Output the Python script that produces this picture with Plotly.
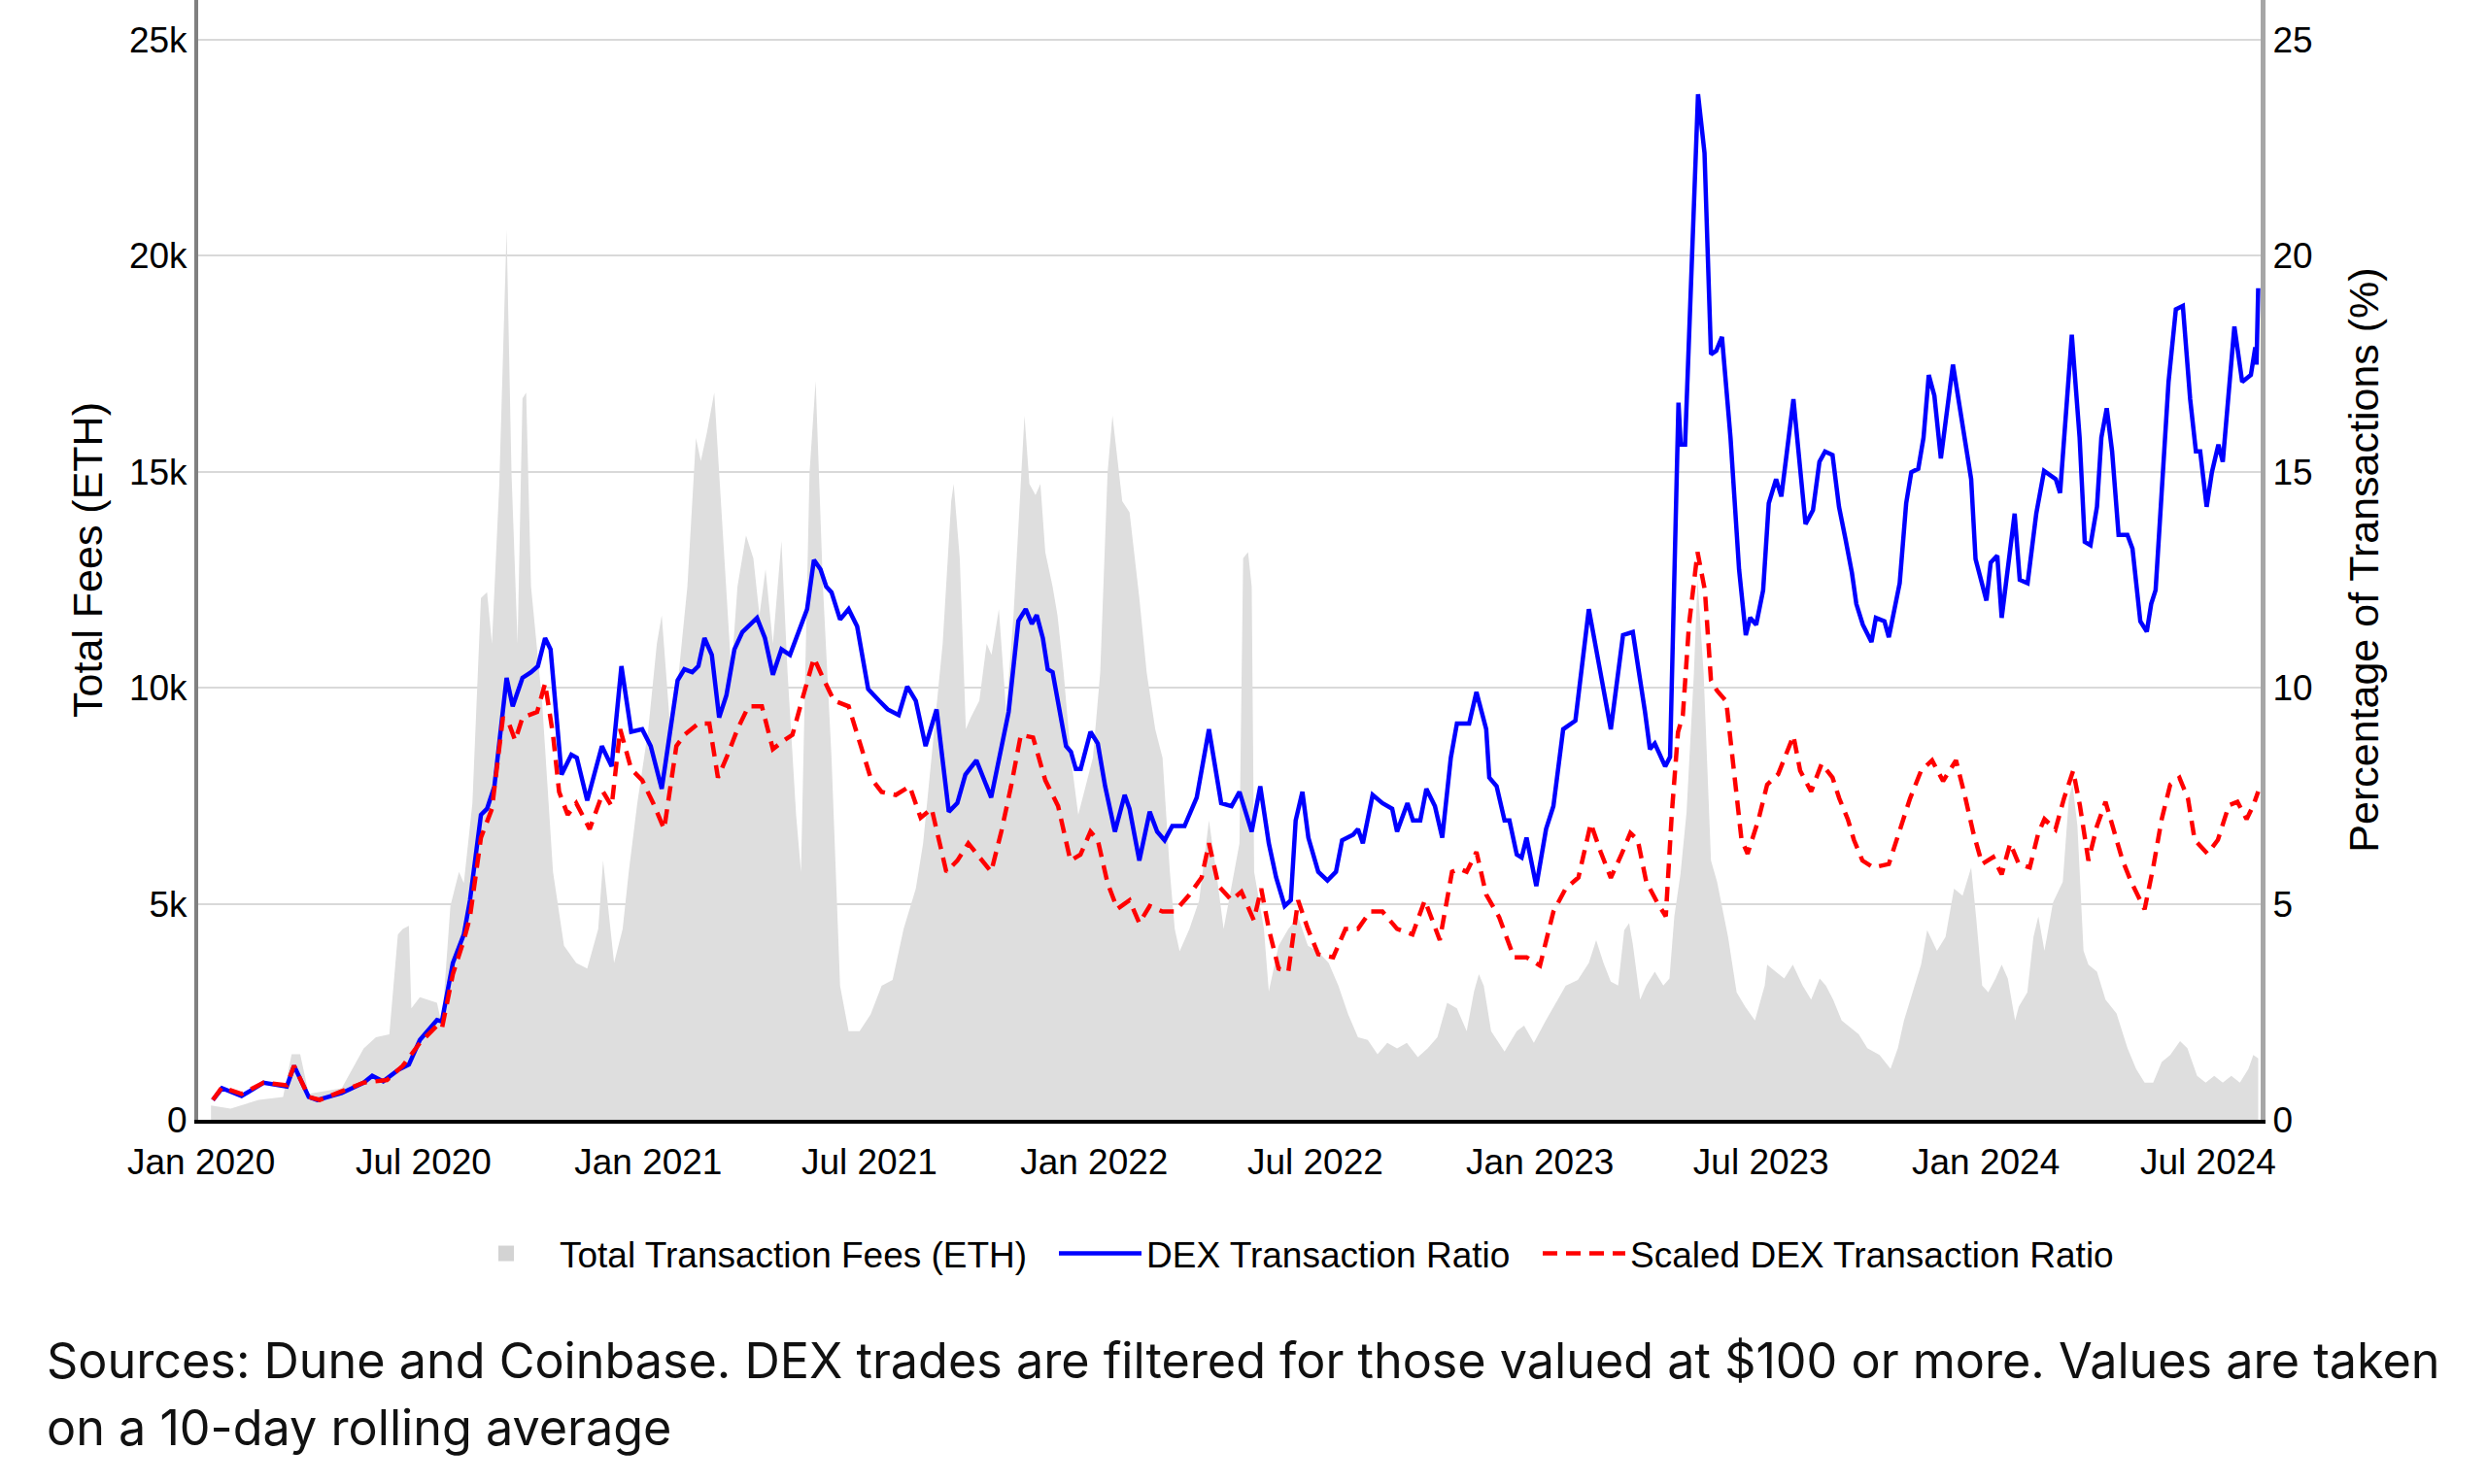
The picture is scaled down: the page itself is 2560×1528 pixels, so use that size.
import pandas as pd
import plotly.graph_objects as go

# ---------------- data ----------------
# x values are days since 2020-01-01
START = "2020-01-01"

fee_day = [8, 24, 47, 67, 74, 81, 88, 115, 133, 143, 154, 161, 165, 170, 172, 179, 193, 197,
           204, 211, 215, 222, 229, 234, 238, 244, 250, 254, 259, 263, 266, 270, 279, 288, 297,
           307, 316, 325, 329, 334, 338, 345, 350, 357, 366, 373, 377, 384, 391, 398, 405, 409,
           414, 420, 425, 430, 434, 439, 446, 452, 457, 462, 468, 475, 480, 487, 491, 498, 503,
           509, 516, 523, 530, 539, 548, 557, 566, 575, 585, 591, 598, 607, 614, 616, 621, 626,
           630, 637, 643, 647, 653, 659, 665, 671, 674, 678, 683, 687, 691, 697, 701, 706, 712,
           718, 724, 730, 736, 742, 746, 750, 754, 760, 768, 774, 781, 787, 793, 797, 801, 809,
           817, 825, 831, 837, 843, 850, 853, 857, 860, 862, 870, 874, 882, 890, 898, 906, 914,
           923, 931, 939, 947, 955, 963, 971, 979, 987, 996, 1004, 1012, 1020, 1028, 1036, 1042,
           1046, 1050, 1056, 1067, 1077, 1083, 1091, 1101, 1109, 1117, 1127, 1136, 1142, 1148,
           1154, 1160, 1165, 1169, 1172, 1178, 1183, 1190, 1197, 1202, 1206, 1211, 1216, 1222,
           1225, 1230, 1236, 1241, 1250, 1257, 1264, 1272, 1280, 1282, 1289, 1296, 1303, 1311,
           1318, 1325, 1330, 1336, 1343, 1350, 1357, 1364, 1374, 1383, 1389, 1394, 1401, 1408,
           1413, 1421, 1428, 1435, 1442, 1449, 1453, 1458, 1463, 1469, 1474, 1479, 1485, 1488,
           1495, 1500, 1504, 1509, 1516, 1524, 1529, 1532, 1536, 1541, 1545, 1552, 1559, 1568,
           1577, 1584, 1591, 1598, 1605, 1612, 1620, 1626, 1634, 1641, 1648, 1655, 1662, 1669,
           1676, 1680, 1684]
fee_eth = [330, 260, 460, 530, 1520, 1520, 600, 730, 1650, 1910, 1980, 4290, 4420, 4490, 2580,
           2840, 2710, 2180, 4950, 5740, 5480, 7330, 12080, 12210, 11020, 14700, 20600, 14980,
           11020, 16700, 16830, 12340, 9700, 5740, 4030, 3630, 3500, 4420, 6000, 4690, 3630,
           4420, 5740, 7330, 9040, 11020, 11680, 9040, 10360, 12340, 15780, 15250, 15910, 16830,
           14590, 12340, 10360, 12340, 13530, 13000, 11680, 12740, 11020, 13400, 10360, 7060,
           5740, 14980, 17100, 12340, 8380, 3100, 2050, 2050, 2440, 3100, 3240, 4420, 5350, 6400,
           8380, 11020, 14320, 14720, 13000, 9040,
           9310, 9700, 11020, 10760, 11820, 9440, 11680, 14720, 16300, 14720, 14460, 14720,
           13140, 12340, 11680, 10360, 8380, 7060, 7720, 8380, 10360, 14980, 16300, 15250, 14320,
           14060, 12080, 10360, 9040, 8380, 5740, 4420, 3900, 4420, 5080, 6930, 5740, 4420, 5350,
           6400, 13000, 13140, 12340, 5740, 4420, 2970, 4030, 4420, 4690, 4030, 3900, 3630, 3100,
           2440, 1910, 1850, 1520, 1780, 1650, 1780, 1450, 1650, 1910, 2710, 2580, 2050, 2970,
           3370, 3100, 2050, 1580, 2050, 2180, 1780, 2310, 2710, 3100, 3240, 3630, 4160, 3630,
           3200, 3110, 4390, 4550, 4070, 2780, 3110, 3430, 3110, 3270, 4710, 5680, 7120, 10330,
           12500, 10330, 6000, 5510, 4230, 2950, 2620, 2300, 3110, 3590, 3430, 3270, 3590, 3110,
           2780, 3270, 3110, 2780, 2300, 2140, 1980, 1660, 1500, 1180, 1660, 2300, 2950, 3590,
           4390, 3910, 4230, 5350, 5190, 5840, 4710, 3110, 2950, 3270, 3590, 3270, 2300, 2620,
           2950, 4230, 4710, 3910, 5030, 5510, 7440, 7760, 6800, 3910, 3590, 3430, 2780, 2460,
           1660, 1180, 860, 860, 1340, 1500, 1820, 1660, 1020, 860, 1020, 860, 1020, 860,
           1180, 1500, 1420]

dex_day = [9.5, 17, 33, 51, 70, 76, 88, 95, 115, 133, 140, 149, 161, 170, 179, 193, 197, 206,
           215, 220, 229, 234, 240, 250, 255, 263, 270, 275.6, 281.5, 286, 295, 303, 307.5, 316,
           328, 336, 344, 352, 361, 368, 377, 390, 395.5, 402, 407, 412, 418, 424, 430, 436.5,
           443, 448, 455, 461.5, 468, 475, 482, 489, 496, 501.6, 507, 511.7, 516, 523, 530, 537,
           546, 555, 562, 571, 578, 585, 593, 602, 612, 619, 625.6, 634.6, 646.7, 661, 669, 675,
           680, 684, 689, 693, 697, 708, 712, 716, 720, 728, 734, 740, 748, 756, 760, 768, 776.5,
           782.6, 788.7, 795, 805, 815, 825, 835, 843.5, 850, 860, 867, 874, 880, 887, 892, 896,
           901.5, 906.4, 914.5, 922, 929, 934, 943, 947, 951, 959, 967, 975, 979, 987.5, 992, 998,
           1003, 1010, 1016, 1023, 1028, 1038, 1044, 1052, 1054.5, 1060.5, 1067, 1071, 1077,
           1081, 1085, 1093, 1101, 1107, 1115, 1125, 1136, 1146, 1154, 1164, 1172, 1182, 1186,
           1190, 1198.5, 1202.5, 1209.4, 1211.2, 1214.8, 1225.4, 1230.7, 1236, 1240.3, 1245,
           1252, 1259, 1264.5, 1268, 1273, 1278.7, 1283.3, 1289.3, 1293.6, 1298.2, 1303.5,
           1313.4, 1319.5, 1324.8, 1329.4, 1335.5, 1340.8, 1346, 1351.4, 1355, 1360.3, 1367.4,
           1371, 1378, 1381.6, 1390.5, 1395.8, 1400, 1405.7, 1410, 1414.3, 1418.9, 1424.2,
           1434.1, 1443.7, 1449, 1452.6, 1457.9, 1461.5, 1465, 1470.4, 1474, 1479.2, 1484.6,
           1488.8, 1495.2, 1502.3, 1508.7, 1518.3, 1521.8, 1531.4, 1537.8, 1542, 1546.7, 1552,
           1555.6, 1560, 1564.4, 1569.7, 1576.9, 1581.1, 1587.5, 1592.8, 1596.4, 1600, 1605.3,
           1610.6, 1616.6, 1622.3, 1628.3, 1633, 1636.5, 1641.8, 1646.1, 1651.4, 1655, 1658.5,
           1664.5, 1670.9, 1678, 1681.6, 1682.6, 1684]
dex_pct = [0.46, 0.73, 0.55, 0.86, 0.77, 1.25, 0.53, 0.46, 0.62, 0.86, 1.02, 0.89, 1.15, 1.28,
           1.85, 2.31, 2.28, 3.63, 4.29, 5.08, 7.06, 7.2, 7.72, 10.23, 9.57, 10.23, 10.36, 10.5,
           11.15, 10.89, 7.99, 8.45, 8.38, 7.39, 8.65, 8.18, 10.5, 8.98, 9.04, 8.65, 7.66, 10.17,
           10.43, 10.36, 10.5, 11.15, 10.76, 9.31, 9.83, 10.89, 11.29, 11.42, 11.62, 11.15, 10.3,
           10.89, 10.76, 11.29, 11.82, 12.96, 12.74, 12.34, 12.21, 11.58, 11.82, 11.42, 9.97,
           9.7, 9.5, 9.37, 10.03, 9.7, 8.65, 9.5, 7.13, 7.33, 7.99, 8.32, 7.46, 9.44, 11.55,
           11.82, 11.48, 11.68, 11.15, 10.43, 10.36, 8.65, 8.52, 8.12, 8.12, 8.98, 8.71, 7.72,
           6.67, 7.52, 7.2, 6.0, 7.13, 6.67, 6.47, 6.8, 6.8, 7.46, 9.04, 7.33, 7.26, 7.59, 6.67,
           7.72, 6.4, 5.61, 4.95, 5.08, 6.93, 7.59, 6.53, 5.74, 5.54, 5.74, 6.47, 6.6, 6.73, 6.4,
           7.52, 7.33, 7.2, 6.67, 7.33, 6.93, 6.93, 7.66, 7.26, 6.53, 8.38, 9.17, 9.17, 9.9,
           9.04, 7.92, 7.72, 6.93, 6.93, 6.14, 6.07, 6.53, 5.41, 6.73, 7.26, 9.04, 9.24, 11.82,
           10.23, 9.04, 11.22, 11.29, 9.44, 8.58, 8.71, 8.18, 8.4, 16.6, 15.63, 15.63, 23.74,
           22.38, 17.72, 17.8, 18.12, 15.79, 12.74, 11.22, 11.62, 11.46, 12.26, 14.27, 14.83,
           14.43, 15.47, 16.68, 13.79, 14.11, 15.23, 15.47, 15.39, 14.19, 13.46, 12.66, 11.94,
           11.46, 11.06, 11.62, 11.54, 11.17, 12.42, 14.27, 14.99, 15.07, 15.79, 17.24, 16.76,
           15.31, 17.48, 15.71, 14.83, 12.98, 12.42, 12.02, 12.9, 13.06, 11.62, 12.9, 14.03,
           12.5, 12.42, 14.03, 15.02, 14.83, 14.51, 18.17, 15.79, 13.38, 13.3, 14.19, 15.79,
           16.47, 15.47, 13.54, 13.54, 13.22, 11.54, 11.3, 11.94, 12.26, 14.75, 17.08, 18.76,
           18.84, 16.68, 15.47, 15.47, 14.19, 14.99, 15.63, 15.23, 16.43, 18.36, 17.08, 17.24,
           17.88, 17.48, 19.25]

scaled_day = [9.5, 17, 33, 51, 70, 76, 88, 97, 115, 133, 152, 165, 179, 193, 197, 206, 215, 220,
              229, 238, 247, 252, 257, 263, 275, 281.5, 288, 293, 300, 307, 318, 329, 336, 343,
              352, 361, 370, 379, 389, 395.5, 407, 416, 423, 430, 439, 448, 459, 468, 477, 484,
              493, 501.6, 509, 518, 530, 539, 548, 557, 568.6, 580, 589, 598, 610, 619, 628,
              646.7, 655, 663, 671, 681, 691, 701.5, 711.6, 719.8, 728, 734, 742, 750, 760, 768,
              776.5, 787, 797, 809, 819, 825, 833, 843.5, 851.6, 861.7, 867.8, 874, 882, 890,
              898, 906, 914.5, 926.7, 936.8, 947, 957, 967, 979, 991.6, 1001.7, 1014, 1024, 1030,
              1036, 1044, 1052, 1062.6, 1074.7, 1085, 1096, 1107, 1117, 1127.5, 1137.6, 1145.7,
              1154, 1163, 1170, 1176, 1183, 1192, 1199, 1204, 1209, 1213, 1218, 1225, 1231, 1236,
              1241, 1248.5, 1255.6, 1261, 1266, 1275, 1282, 1291, 1303.5, 1309, 1318, 1326.6,
              1335.5, 1341, 1348, 1353, 1360, 1369, 1381.6, 1392, 1399, 1408, 1417, 1426, 1436.6,
              1443.7, 1450.8, 1458, 1467, 1474, 1481, 1488, 1497, 1504, 1509, 1518, 1525, 1532.5,
              1538, 1545, 1552, 1559, 1566, 1573, 1580, 1591, 1598, 1605, 1612, 1619.5, 1626.5,
              1632, 1642.5, 1651, 1660, 1667, 1674.5, 1680, 1684]
scaled_pct = [0.46, 0.75, 0.6, 0.86, 0.8, 1.25, 0.53, 0.46, 0.66, 0.86, 0.92, 1.25, 1.78, 2.18,
              2.11, 3.37, 4.16, 4.69, 6.53, 7.2, 9.31, 9.17, 8.78, 9.31, 9.44, 10.1, 8.91, 7.59,
              7.06, 7.33, 6.73, 7.59, 7.26, 9.04, 8.12, 7.86, 7.33, 6.73, 8.65, 8.91, 9.17, 9.17,
              7.92, 8.38, 9.04, 9.57, 9.57, 8.58, 8.78, 8.91, 9.83, 10.69, 10.23, 9.7, 9.57, 8.78,
              7.92, 7.59, 7.52, 7.72, 6.99, 7.2, 5.74, 6.0, 6.4, 5.74, 6.67, 7.72, 8.91, 8.85,
              7.86, 7.26, 6.0, 6.14, 6.67, 6.47, 5.48, 4.88, 5.08, 4.55, 4.95, 4.82, 4.82, 5.21,
              5.61, 6.4, 5.41, 5.08, 5.28, 4.62, 5.35, 4.42, 3.5, 3.43, 5.08, 4.42, 3.83, 3.76,
              4.42, 4.42, 4.82, 4.82, 4.42, 4.29, 5.08, 4.16, 5.74, 5.81, 5.74, 6.2, 5.21, 4.69,
              3.76, 3.76, 3.57, 4.82, 5.35, 5.61, 6.86, 6.2, 5.6, 6.16, 6.64, 6.48, 5.51, 5.03,
              4.71, 7.12, 8.97, 9.37, 11.46, 13.14, 12.26, 10.17, 9.93, 9.69, 7.92, 6.48, 6.16,
              6.96, 7.76, 8.0, 8.89, 8.08, 7.6, 8.24, 7.92, 7.44, 6.96, 6.48, 6.0, 5.84, 5.92,
              6.8, 7.44, 8.08, 8.32, 7.84, 8.32, 7.52, 6.64, 5.92, 6.08, 5.68, 6.4, 5.92, 5.84,
              6.64, 6.96, 6.72, 7.44, 8.08, 7.28, 6.0, 6.8, 7.36, 6.64, 6.0, 5.51, 4.87, 5.84,
              6.96, 7.76, 7.92, 7.44, 6.48, 6.16, 6.48, 7.28, 7.36, 6.96, 7.28, 7.6]

fee_ticks = [0, 5000, 10000, 15000, 20000, 25000]
fee_tick_text = ["0", "5k", "10k", "15k", "20k", "25k"]
pct_ticks = [0, 5, 10, 15, 20, 25]
pct_tick_text = ["0", "5", "10", "15", "20", "25"]

caption_1 = "Sources: Dune and Coinbase. DEX trades are filtered for those valued at $100 or more. Values are taken"
caption_2 = "on a 10-day rolling average"


def to_dates(days):
    return pd.Timestamp(START) + pd.to_timedelta(days, unit="D")


# ---------------- figure ----------------
SANS = "Liberation Sans, Arial, sans-serif"

fig = go.Figure()

fig.add_trace(go.Scatter(
    x=to_dates(fee_day), y=fee_eth, name="Total Transaction Fees (ETH)",
    mode="lines", line=dict(width=0, color="#dedede"), fill="tozeroy",
    fillcolor="#dedede", legendgroup="fees", showlegend=False, yaxis="y",
))
fig.add_trace(go.Scatter(
    x=[None], y=[None], name="Total Transaction Fees (ETH)", mode="markers",
    marker=dict(symbol="square", size=16, color="#d3d3d3"),
    legendgroup="fees", showlegend=True, legend="legend", yaxis="y",
))
fig.add_trace(go.Scatter(
    x=to_dates(dex_day), y=dex_pct, name="DEX Transaction Ratio", mode="lines",
    line=dict(color="#0000ff", width=4.5), yaxis="y2", legend="legend2",
))
fig.add_trace(go.Scatter(
    x=to_dates(scaled_day), y=scaled_pct, name="Scaled DEX Transaction Ratio", mode="lines",
    line=dict(color="#ff0000", width=4.5, dash="15px,9px"), yaxis="y2", legend="legend3",
))

L, R, T, B = 204, 233, 0, 375
W, H = 2560, 1528
PW, PH = W - L - R, H - T - B


def px_x(px):
    return (px - L) / PW


def px_y(py):
    return (H - B - py) / PH


legend_common = dict(orientation="h", font=dict(family=SANS, size=37, color="black"),
                     bgcolor="rgba(0,0,0,0)", yanchor="middle", xanchor="left",
                     y=px_y(1291))

fig.update_layout(
    width=W, height=H,
    margin=dict(l=L, r=R, t=T, b=B, pad=0),
    paper_bgcolor="white", plot_bgcolor="white",
    font=dict(family=SANS, color="black"),
    xaxis=dict(
        type="date", range=["2019-12-29 12:00", "2024-08-13"],
        tick0="2020-01-01", dtick="M6", tickformat="%b %Y",
        showgrid=False, zeroline=False,
        showline=True, linecolor="black", linewidth=4,
        ticks="", tickfont=dict(family=SANS, size=37, color="black"),
        ticklabelstandoff=8,
    ),
    yaxis=dict(
        range=[0, 25920], tickvals=fee_ticks, ticktext=fee_tick_text,
        showgrid=True, gridcolor="#d9d9d9", gridwidth=2, zeroline=False,
        showline=True, linecolor="#808080", linewidth=4, ticks="",
        tickfont=dict(family=SANS, size=37, color="black"),
        title=dict(text="Total Fees (ETH)", font=dict(family=SANS, size=43, color="black"),
                   standoff=15),
    ),
    yaxis2=dict(
        range=[0, 25.92], tickvals=pct_ticks, ticktext=pct_tick_text,
        overlaying="y", side="right", showgrid=False, zeroline=False,
        showline=True, linecolor="#a6a6a6", linewidth=5, ticks="",
        tickfont=dict(family=SANS, size=37, color="black"),
        title=dict(text="Percentage of Transactions (%)",
                   font=dict(family=SANS, size=43, color="black"), standoff=40),
    ),
    legend=dict(x=px_x(466), itemwidth=100, **legend_common),
    legend2=dict(x=px_x(1085), itemwidth=85, **legend_common),
    legend3=dict(x=px_x(1583), itemwidth=85, **legend_common),
    annotations=[
        dict(text=caption_1, xref="paper", yref="paper", x=px_x(46), y=px_y(1400),
             xanchor="left", yanchor="middle", showarrow=False,
             font=dict(family="Inter", size=50.3, color="#111111")),
        dict(text=caption_2, xref="paper", yref="paper", x=px_x(46), y=px_y(1469),
             xanchor="left", yanchor="middle", showarrow=False,
             font=dict(family="Inter", size=50.3, color="#111111")),
    ],
)

fig.write_html("out.html", config={"displayModeBar": False},
               post_script="document.body.style.margin='0px';")
